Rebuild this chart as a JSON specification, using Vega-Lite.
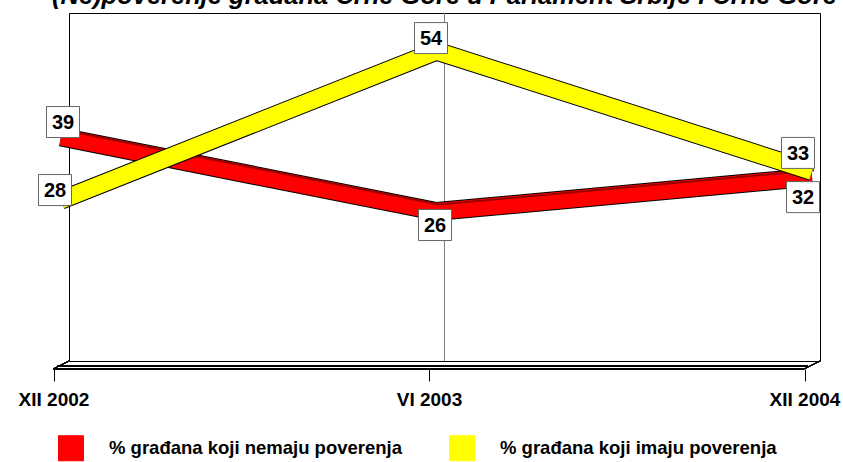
{
  "$schema": "https://vega.github.io/schema/vega-lite/v6.json",
  "width": 751,
  "height": 348,
  "autosize": "none",
  "padding": {"left": 69, "top": 13, "right": 23, "bottom": 101},
  "background": "white",
  "config": {
    "font": "Liberation Sans",
    "view": {"stroke": "#000000", "strokeWidth": 1},
    "legend": {"padding": 0}
  },
  "title": {
    "text": "(Ne)poverenje građana Crne Gore u Parlament Srbije i Crne Gore",
    "font": "Liberation Sans",
    "fontSize": 25.5,
    "fontWeight": "bold",
    "fontStyle": "italic",
    "anchor": "middle",
    "offset": 3,
    "color": "#000000"
  },
  "data": {
    "values": [
      {"period": "XII 2002", "serija": "% građana koji nemaju poverenja", "value": 39},
      {"period": "VI 2003", "serija": "% građana koji nemaju poverenja", "value": 26},
      {"period": "XII 2004", "serija": "% građana koji nemaju poverenja", "value": 32},
      {"period": "XII 2002", "serija": "% građana koji imaju poverenja", "value": 28},
      {"period": "VI 2003", "serija": "% građana koji imaju poverenja", "value": 54},
      {"period": "XII 2004", "serija": "% građana koji imaju poverenja", "value": 33}
    ]
  },
  "encoding": {
    "x": {
      "field": "period",
      "type": "ordinal",
      "sort": ["XII 2002", "VI 2003", "XII 2004"],
      "scale": {"type": "point", "padding": 0, "domain": ["XII 2002", "VI 2003", "XII 2004"]},
      "axis": {
        "title": null,
        "domain": false,
        "grid": false,
        "labelAngle": 0,
        "offset": 8,
        "tickSize": 12,
        "tickColor": "#000000",
        "tickOffset": -15.5,
        "labelFontSize": 19,
        "labelFontWeight": "bold",
        "labelColor": "#000000",
        "labelPadding": 9
      }
    },
    "y": {
      "field": "value",
      "type": "quantitative",
      "scale": {"domain": [0, 60], "range": [347.5, 3.7], "nice": false, "zero": false},
      "axis": null
    }
  },
  "layer": [
    {
      "mark": {"type": "rule", "color": "#808080", "strokeWidth": 1},
      "encoding": {"x": {"datum": "VI 2003"}, "y": null}
    },
    {
      "mark": {"type": "rule", "color": "#000000", "strokeWidth": 1, "xOffset": -16, "x2Offset": -16, "yOffset": 8.5, "y2Offset": 8.5},
      "encoding": {"x": {"datum": "XII 2002"}, "x2": {"datum": "XII 2004"}, "y": {"datum": 0}}
    },
    {
      "mark": {"type": "rule", "color": "#000000", "strokeWidth": 1, "xOffset": -12, "x2Offset": -12, "yOffset": 5.5, "y2Offset": 5.5},
      "encoding": {"x": {"datum": "XII 2002"}, "x2": {"datum": "XII 2004"}, "y": {"datum": 0}}
    },
    {
      "mark": {"type": "rule", "color": "#000000", "strokeWidth": 1, "xOffset": -16, "x2Offset": 0, "yOffset": 8.5, "y2Offset": 0.5},
      "encoding": {"x": {"datum": "XII 2002"}, "x2": {"datum": "XII 2002"}, "y": {"datum": 0}, "y2": {"datum": 0}}
    },
    {
      "mark": {"type": "rule", "color": "#000000", "strokeWidth": 1, "xOffset": -16, "x2Offset": 0, "yOffset": 8.5, "y2Offset": 0.5},
      "encoding": {"x": {"datum": "XII 2004"}, "x2": {"datum": "XII 2004"}, "y": {"datum": 0}, "y2": {"datum": 0}}
    },
    {
      "transform": [{"filter": {"field": "serija", "equal": "% građana koji nemaju poverenja"}}],
      "mark": {"type": "line", "stroke": "#000000", "strokeWidth": 19, "strokeCap": "butt", "strokeJoin": "miter", "xOffset": -8},
      "encoding": {}
    },
    {
      "transform": [{"filter": {"field": "serija", "equal": "% građana koji nemaju poverenja"}}],
      "mark": {"type": "line", "strokeWidth": 17, "strokeCap": "butt", "strokeJoin": "miter", "xOffset": -8},
      "encoding": {
        "color": {
          "field": "serija",
          "type": "nominal",
          "scale": {"domain": ["% građana koji nemaju poverenja", "% građana koji imaju poverenja"], "range": ["#FF0000", "#FFFF00"]},
          "legend": {
            "title": null,
            "orient": "none",
            "direction": "horizontal",
            "legendX": -11,
            "legendY": 422,
            "symbolType": "square",
            "symbolSize": 625,
            "symbolStrokeWidth": 1,
            "labelFontSize": 18.5,
            "labelFontWeight": "bold",
            "labelColor": "#000000",
            "labelOffset": 25,
            "labelLimit": 400,
            "columnPadding": 44,
            "encode": {"symbols": {"update": {"fill": {"scale": "color", "field": "value"}, "stroke": {"value": "#000000"}, "strokeWidth": {"value": 1}, "opacity": {"value": 1}}}}
          }
        }
      }
    },
    {
      "transform": [{"filter": {"field": "serija", "equal": "% građana koji nemaju poverenja"}}],
      "mark": {"type": "line", "stroke": "#990000", "strokeWidth": 2, "strokeCap": "butt", "strokeJoin": "miter", "xOffset": -6, "yOffset": -7},
      "encoding": {}
    },
    {
      "transform": [{"filter": {"field": "serija", "equal": "% građana koji imaju poverenja"}}],
      "mark": {"type": "line", "stroke": "#000000", "strokeWidth": 19, "strokeCap": "butt", "strokeJoin": "miter", "xOffset": -8},
      "encoding": {}
    },
    {
      "transform": [{"filter": {"field": "serija", "equal": "% građana koji imaju poverenja"}}],
      "mark": {"type": "line", "strokeWidth": 17, "strokeCap": "butt", "strokeJoin": "miter", "xOffset": -8},
      "encoding": {"color": {"field": "serija", "type": "nominal"}}
    },
    {
      "transform": [{"filter": "datum.value === 39"}],
      "layer": [
        {"mark": {"type": "point", "shape": "M-1.065,-1H1.065V1H-1.065Z", "size": 961, "filled": true, "fill": "#FFFFFF", "stroke": "#666666", "strokeWidth": 1, "opacity": 1, "xOffset": -6, "yOffset": -15}},
        {"mark": {"type": "text", "fontSize": 20, "fontWeight": "bold", "color": "#000000", "baseline": "middle", "xOffset": -6, "yOffset": -14}, "encoding": {"text": {"field": "value"}}}
      ]
    },
    {
      "transform": [{"filter": "datum.value === 28"}],
      "layer": [
        {"mark": {"type": "point", "shape": "M-1.065,-1H1.065V1H-1.065Z", "size": 961, "filled": true, "fill": "#FFFFFF", "stroke": "#666666", "strokeWidth": 1, "opacity": 1, "xOffset": -14, "yOffset": -10}},
        {"mark": {"type": "text", "fontSize": 20, "fontWeight": "bold", "color": "#000000", "baseline": "middle", "xOffset": -14, "yOffset": -9}, "encoding": {"text": {"field": "value"}}}
      ]
    },
    {
      "transform": [{"filter": "datum.value === 54"}],
      "layer": [
        {"mark": {"type": "point", "shape": "M-1.065,-1H1.065V1H-1.065Z", "size": 961, "filled": true, "fill": "#FFFFFF", "stroke": "#666666", "strokeWidth": 1, "opacity": 1, "xOffset": -13.5, "yOffset": -13}},
        {"mark": {"type": "text", "fontSize": 20, "fontWeight": "bold", "color": "#000000", "baseline": "middle", "xOffset": -13.5, "yOffset": -12}, "encoding": {"text": {"field": "value"}}}
      ]
    },
    {
      "transform": [{"filter": "datum.value === 26"}],
      "layer": [
        {"mark": {"type": "point", "shape": "M-1.065,-1H1.065V1H-1.065Z", "size": 961, "filled": true, "fill": "#FFFFFF", "stroke": "#666666", "strokeWidth": 1, "opacity": 1, "xOffset": -9.5, "yOffset": 13.5}},
        {"mark": {"type": "text", "fontSize": 20, "fontWeight": "bold", "color": "#000000", "baseline": "middle", "xOffset": -9.5, "yOffset": 14.5}, "encoding": {"text": {"field": "value"}}}
      ]
    },
    {
      "transform": [{"filter": "datum.value === 33"}],
      "layer": [
        {"mark": {"type": "point", "shape": "M-1.065,-1H1.065V1H-1.065Z", "size": 961, "filled": true, "fill": "#FFFFFF", "stroke": "#666666", "strokeWidth": 1, "opacity": 1, "xOffset": -22, "yOffset": -18.5}},
        {"mark": {"type": "text", "fontSize": 20, "fontWeight": "bold", "color": "#000000", "baseline": "middle", "xOffset": -22, "yOffset": -17.5}, "encoding": {"text": {"field": "value"}}}
      ]
    },
    {
      "transform": [{"filter": "datum.value === 32"}],
      "layer": [
        {"mark": {"type": "point", "shape": "M-1.065,-1H1.065V1H-1.065Z", "size": 961, "filled": true, "fill": "#FFFFFF", "stroke": "#666666", "strokeWidth": 1, "opacity": 1, "xOffset": -17, "yOffset": 20}},
        {"mark": {"type": "text", "fontSize": 20, "fontWeight": "bold", "color": "#000000", "baseline": "middle", "xOffset": -17, "yOffset": 21}, "encoding": {"text": {"field": "value"}}}
      ]
    }
  ]
}
